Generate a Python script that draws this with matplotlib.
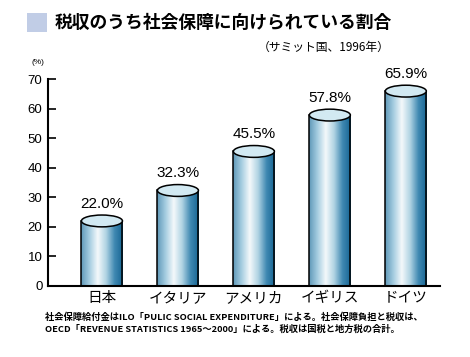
import numpy as np
import matplotlib
matplotlib.use('Agg')
import matplotlib.pyplot as plt
from matplotlib.patches import Ellipse, Rectangle
from matplotlib.colors import LinearSegmentedColormap

# data
countries = ['日本', 'イタリア', 'アメリカ', 'イギリス', 'ドイツ']
shares = [22.0, 32.3, 45.5, 57.8, 65.9]
value_labels = ['22.0%', '32.3%', '45.5%', '57.8%', '65.9%']
yticks = [0, 10, 20, 30, 40, 50, 60, 70]

title = '税収のうち社会保障に向けられている割合'
subtitle = '（サミット国、1996年）'
note1 = '社会保障給付金はILO「PULIC SOCIAL EXPENDITURE」による。社会保障負担と税収は、'
note2 = 'OECD「REVENUE STATISTICS 1965～2000」による。税収は国税と地方税の合計。'

JP = ['Noto Sans CJK JP', 'DejaVu Sans']
NUM = ['Liberation Sans', 'DejaVu Sans']

fig = plt.figure(figsize=(4.7, 3.57), dpi=100)
ax = fig.add_axes([48/470, 71/357, 392/470, 207/357])

side_cmap = LinearSegmentedColormap.from_list(
    'side', ['#5f98b8', '#a4cce0', '#f4f9fb', '#b0d3e3', '#4089b2', '#176593'])
top_cmap = LinearSegmentedColormap.from_list('top', ['#b6d8e6', '#e6f3f8', '#c9e4ef'])

bw = 0.54   # bar width in category units
eh = 4.0    # ellipse height in data units
x = np.arange(len(countries))
grad = np.linspace(0, 1, 256).reshape(1, -1)

for xi, v, lab in zip(x, shares, value_labels):
    rect = Rectangle((xi - bw/2, 0), bw, v, facecolor='none', edgecolor='none')
    ax.add_patch(rect)
    im = ax.imshow(grad, cmap=side_cmap, extent=(xi - bw/2, xi + bw/2, 0, v),
                   aspect='auto', zorder=2, interpolation='bilinear')
    im.set_clip_path(rect)
    ax.plot([xi - bw/2, xi - bw/2], [0, v], color='black', lw=1.1, zorder=3)
    ax.plot([xi + bw/2, xi + bw/2], [0, v], color='black', lw=1.1, zorder=3)
    top = Ellipse((xi, v), bw, eh, facecolor='#d2e9f2', edgecolor='black', lw=1.1, zorder=4)
    ax.add_patch(top)
    ax.text(xi, v + 4.4, lab, ha='center', va='baseline', fontsize=11,
            family=NUM, zorder=5)

ax.set_xlim(-0.71, 4.45)
ax.set_ylim(0, 70)
ax.set_yticks(yticks)
ax.set_yticklabels([str(t) for t in yticks], family=NUM, fontsize=9.5)
ax.tick_params(axis='y', direction='in', length=6, width=1.2, pad=4)
ax.set_xticks([])
for s in ['top', 'right']:
    ax.spines[s].set_visible(False)
ax.spines['left'].set_linewidth(1.5)
ax.spines['bottom'].set_linewidth(1.5)
ax.spines['bottom'].set_zorder(6)

for xi, name in zip(x, countries):
    ax.text(xi, -4.1, name, ha='center', va='center', fontsize=10.5,
            family=JP, clip_on=False)

# header
fig.patches.append(Rectangle((27/470, 1 - 32/357), 20/470, 19/357,
                             transform=fig.transFigure, facecolor='#c1cde6',
                             edgecolor='none'))
fig.text(55/470, 1 - 23/357, title, fontsize=12.8, fontweight='bold',
         family=JP, va='center', ha='left')
fig.text(390/470, 1 - 47/357, subtitle, fontsize=8.5, family=JP,
         va='center', ha='right')
fig.text(31/470, 1 - 63/357, '(%)', fontsize=6, family=NUM, va='center', ha='left')

fig.text(45/470, 1 - 317/357, note1, fontsize=6.7, family=JP, va='center',
         ha='left', fontweight='bold')
fig.text(45/470, 1 - 329/357, note2, fontsize=6.7, family=JP, va='center',
         ha='left', fontweight='bold')

fig.savefig('out.png', dpi=100)
